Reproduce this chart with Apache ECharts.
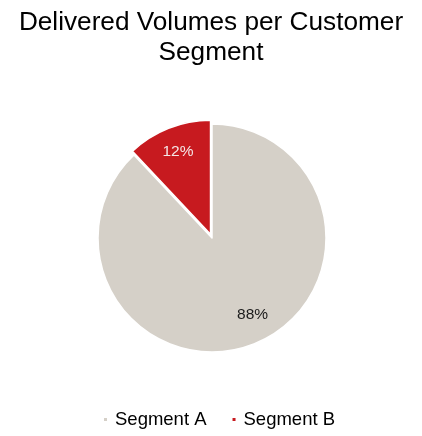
<!DOCTYPE html>
<html><head><meta charset="utf-8">
<script src="https://cdn.jsdelivr.net/npm/echarts@6/dist/echarts.min.js"></script>
<style>html,body{margin:0;padding:0;background:#fff}#c{width:422px;height:436px}</style>
</head><body><div id="c"></div>
<script>
const titleText = 'Delivered Volumes per Customer\nSegment';
const categories = ['Segment A', 'Segment B'];
const values = [88, 12];
const colors = ['#d5d0c8', '#c71a1f'];
const labelColors = ['#1a1a1a', '#f4e6e6'];

const chart = echarts.init(document.getElementById('c'), null, {renderer: 'canvas'});
const center = [212, 238];
const R = 114;
const labelOffsets = [[8, -6], [1, 1]];
chart.setOption({
  animation: false,
  title: {
    text: titleText, left: 'center', top: 3, padding: [5, 5, 5, 10],
    textStyle: {fontFamily: 'Liberation Sans, Arial, sans-serif', fontWeight: 'normal', fontSize: 26.2, color: '#000', lineHeight: 30}
  },
  legend: {
    left: 97, bottom: 2, icon: 'rect', itemWidth: 5, itemHeight: 5, itemGap: 24,
    textStyle: {fontFamily: 'Liberation Sans, Arial, sans-serif', fontSize: 18.5, color: '#000', padding: [0, 0, 0, 2]},
    data: categories
  },
  series: [{
    type: 'pie', center: center, radius: [0, R], startAngle: 90, clockwise: true,
    selectedMode: 'single', selectedOffset: 4,
    itemStyle: {borderColor: '#fff', borderWidth: 1.5},
    label: {show: false}, labelLine: {show: false},
    data: categories.map((c, i) => ({name: c, value: values[i], selected: i === 1, itemStyle: {color: colors[i]}}))
  }, {
    type: 'pie', center: center, radius: [R * 0.5, R], startAngle: 90, clockwise: true,
    silent: true, selectedMode: 'single', selectedOffset: 4,
    itemStyle: {color: 'transparent', borderWidth: 0},
    label: {show: true, position: 'inside', formatter: '{c}%', fontFamily: 'Liberation Sans, Arial, sans-serif', fontSize: 15.5},
    labelLine: {show: false},
    data: categories.map((c, i) => ({name: c, value: values[i], selected: i === 1, itemStyle: {color: 'rgba(0,0,0,0)'}, label: {color: labelColors[i], offset: labelOffsets[i]}}))
  }]
});
</script></body></html>
